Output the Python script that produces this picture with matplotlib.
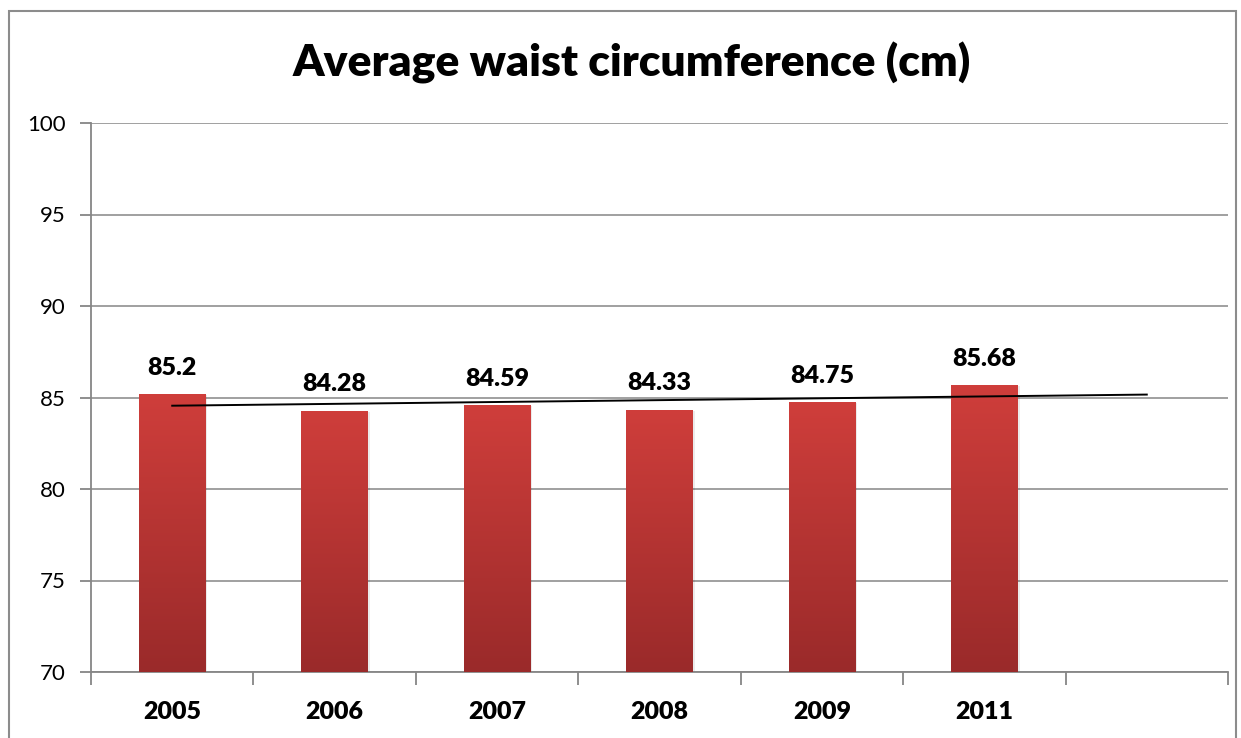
import numpy as np
import matplotlib.pyplot as plt
from matplotlib.patches import Rectangle
from matplotlib.colors import LinearSegmentedColormap

# data
years = ['2005', '2006', '2007', '2008', '2009', '2011']
waist = [85.2, 84.28, 84.59, 84.33, 84.75, 85.68]
labels = ['85.2', '84.28', '84.59', '84.33', '84.75', '85.68']
n_slots = 7  # one empty category slot on the right

plt.rcParams['font.family'] = ['Lato', 'DejaVu Sans']

fig = plt.figure(figsize=(12.41, 7.38), dpi=100)
ax = fig.add_axes([91 / 1241, 1 - 672 / 738, (1228 - 91) / 1241, (672 - 123) / 738])

grid_col = '#868686'
cmap = LinearSegmentedColormap.from_list('bar', ['#9a2a2a', '#cf3e3b'])

x = np.arange(len(waist))
bar_w = 0.41
bars = ax.bar(x, waist, width=bar_w, bottom=0, color='none', zorder=3)
grad = np.linspace(0, 1, 256).reshape(-1, 1)
for b in bars:
    x0, w = b.get_x(), b.get_width()
    h = b.get_height()
    # faint shadow
    ax.add_patch(Rectangle((x0 + 0.012, 0), w, h - 0.05, facecolor='#000000',
                           alpha=0.08, zorder=2, linewidth=0))
    im = ax.imshow(grad, cmap=cmap, aspect='auto', origin='lower',
                   extent=[x0, x0 + w, 70, h], zorder=3)
    im.set_clip_path(b)

for xi, v, lab in zip(x, waist, labels):
    ax.annotate(lab, (xi, v), xytext=(0, 11), textcoords='offset points',
                ha='center', va='bottom', fontsize=18, fontweight='heavy', zorder=5)

# linear trend line, forecast one period forward
coef = np.polyfit(x, waist, 1)
xt = np.array([0, n_slots - 1])
ax.plot(xt, np.polyval(coef, xt), color='black', linewidth=1.4, zorder=4)

ax.set_xlim(-0.5, n_slots - 0.5)
ax.set_ylim(70, 100)
ax.set_yticks(np.arange(70, 101, 5))
ax.yaxis.grid(True, color=grid_col, linewidth=1.1)
ax.set_axisbelow(True)

ax.set_xticks(np.arange(-0.5, n_slots, 1))
ax.set_xticklabels([])
ax.set_xticks(x, minor=True)
ax.set_xticklabels(years, minor=True, fontsize=18, fontweight='heavy')
ax.tick_params(axis='x', which='minor', length=0, pad=21)
ax.tick_params(axis='x', which='major', length=9, color=grid_col, width=1.3, direction='out')
ax.tick_params(axis='y', length=8, color=grid_col, width=1.3, labelsize=16, pad=10)

for side in ['top', 'right']:
    ax.spines[side].set_visible(False)
for side in ['left', 'bottom']:
    ax.spines[side].set_color(grid_col)
    ax.spines[side].set_linewidth(1.3)

fig.text(632 / 1241, 1 - 63 / 738, 'Average waist circumference (cm)', ha='center',
         va='center', fontsize=32, fontweight='heavy')

# outer chart frame
fig.patches.append(Rectangle((9 / 1241, -0.05), (1236 - 9) / 1241, (738 - 11) / 738 + 0.05,
                             transform=fig.transFigure, fill=False, edgecolor='#8c8c8c',
                             linewidth=1.5))

fig.savefig('out.png', dpi=100)
